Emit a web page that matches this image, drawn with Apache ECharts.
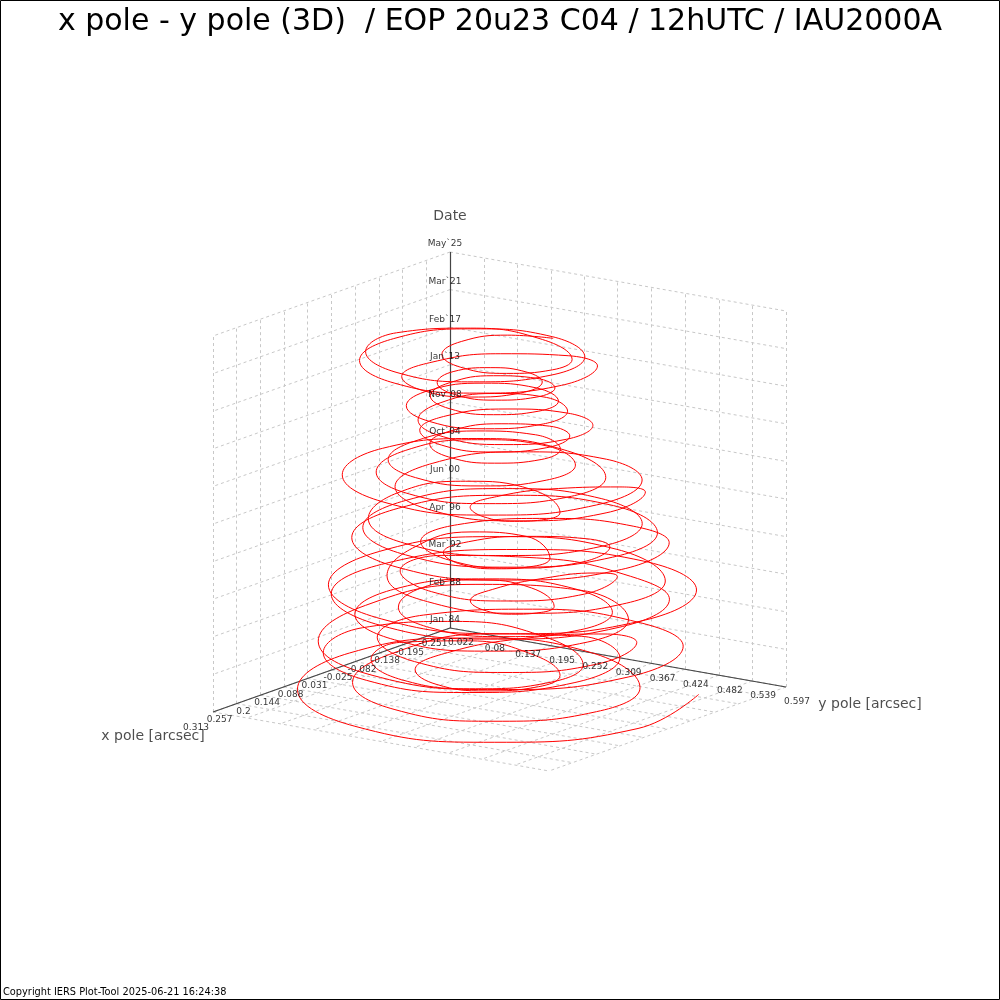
<!DOCTYPE html>
<html><head><meta charset="utf-8">
<style>html,body{margin:0;padding:0;background:#fff}#c{width:1000px;height:1000px}</style>
<script src="https://cdn.jsdelivr.net/npm/echarts@6/dist/echarts.min.js"></script>
</head><body><div id="c"></div>
<script>
const titleText = "x pole - y pole (3D)  / EOP 20u23 C04 / 12hUTC / IAU2000A";
const footerText = "Copyright IERS Plot-Tool 2025-06-21 16:24:38";
const xTickValues = [-0.251,-0.195,-0.138,-0.082,-0.025,0.031,0.088,0.144,0.2,0.257,0.313];
const yTickValues = [0.022,0.08,0.137,0.195,0.252,0.309,0.367,0.424,0.482,0.539,0.597];
const dateTickLabels = ["Jan`84","Feb`88","Mar`92","Apr`96","Jun`00","Oct`04","Nov`08","Jan`13","Feb`17","Mar`21","May`25"];
const dateMin = 1984.0, dateMax = 2025.38;
const dateYears = [
1984.00,1984.15,1984.30,1984.46,1984.61,1984.76,1984.91,1985.07,
1985.22,1985.37,1985.52,1985.68,1985.83,1985.98,1986.13,1986.29,
1986.44,1986.59,1986.74,1986.90,1987.05,1987.20,1987.35,1987.51,
1987.65,1987.80,1987.95,1988.11,1988.26,1988.41,1988.56,1988.72,
1988.87,1989.02,1989.17,1989.33,1989.48,1989.63,1989.78,1989.94,
1990.09,1990.24,1990.39,1990.55,1990.70,1990.85,1991.00,1991.16,
1991.31,1991.46,1991.61,1991.77,1991.92,1992.07,1992.22,1992.38,
1992.52,1992.67,1992.82,1992.98,1993.13,1993.28,1993.43,1993.59,
1993.74,1993.89,1994.04,1994.20,1994.35,1994.50,1994.65,1994.81,
1994.96,1995.11,1995.26,1995.42,1995.57,1995.72,1995.87,1996.03,
1996.18,1996.33,1996.48,1996.64,1996.79,1996.94,1997.09,1997.25,
1997.39,1997.54,1997.69,1997.85,1998.00,1998.15,1998.30,1998.46,
1998.61,1998.76,1998.91,1999.07,1999.22,1999.37,1999.52,1999.68,
1999.83,1999.98,2000.13,2000.29,2000.44,2000.59,2000.74,2000.90,
2001.05,2001.20,2001.35,2001.51,2001.66,2001.81,2001.96,2002.12,
2002.26,2002.41,2002.56,2002.72,2002.87,2003.02,2003.17,2003.33,
2003.48,2003.63,2003.78,2003.94,2004.09,2004.24,2004.39,2004.55,
2004.70,2004.85,2005.00,2005.16,2005.31,2005.46,2005.61,2005.77,
2005.92,2006.07,2006.22,2006.38,2006.53,2006.68,2006.83,2006.99,
2007.13,2007.28,2007.43,2007.59,2007.74,2007.89,2008.04,2008.20,
2008.35,2008.50,2008.65,2008.81,2008.96,2009.11,2009.26,2009.42,
2009.57,2009.72,2009.87,2010.03,2010.18,2010.33,2010.48,2010.64,
2010.79,2010.94,2011.09,2011.25,2011.40,2011.55,2011.70,2011.86,
2012.00,2012.15,2012.30,2012.46,2012.61,2012.76,2012.91,2013.07,
2013.22,2013.37,2013.52,2013.68,2013.83,2013.98,2014.13,2014.29,
2014.44,2014.59,2014.74,2014.90,2015.05,2015.20,2015.35,2015.51,
2015.66,2015.81,2015.96,2016.12,2016.27,2016.42,2016.57,2016.73,
2016.88,2017.03,2017.18,2017.34,2017.49,2017.64,2017.79,2017.95,
2018.09,2018.24,2018.39,2018.55,2018.70,2018.85,2019.00,2019.16,
2019.31,2019.46,2019.61,2019.77,2019.92,2020.07,2020.22,2020.38,
2020.53,2020.68,2020.83,2020.99,2021.14,2021.29,2021.44,2021.60,
2021.75,2021.90,2022.05,2022.21,2022.36,2022.51,2022.66,2022.82,
2022.96,2023.11,2023.26,2023.42,2023.57,2023.72,2023.87,2024.03,
2024.18,2024.33,2024.48,2024.64,2024.79,2024.94,2025.09,2025.25];
const xPole = [
-.149,.058,.239,.284,.169,-.028,-.186,-.208,
-.083,.065,.195,.227,.145,-.013,-.168,-.224,
-.152,.001,.135,.168,.084,-.053,-.148,-.142,
-.042,.067,.163,.187,.126,.034,-.021,-.004,
.074,.148,.214,.230,.188,.091,-.032,-.104,
-.085,.049,.166,.195,.121,-.009,-.115,-.133,
-.055,.133,.298,.339,.235,.043,-.132,-.182,
-.082,.058,.182,.212,.134,-.002,-.115,-.134,
-.052,.058,.155,.179,.118,.018,-.054,-.054,
.017,.060,.098,.107,.083,.020,-.066,-.122,
-.118,-.006,.092,.116,.054,-.042,-.100,-.085,
-.007,.167,.320,.357,.261,.085,-.073,-.114,
-.020,.170,.336,.377,.272,.087,-.067,-.096,
.014,.157,.283,.313,.234,.097,-.016,-.033,
.052,.107,.155,.167,.136,.074,.009,-.020,
.004,.101,.187,.208,.154,.055,-.037,-.064,
-.012,.152,.295,.331,.240,.078,-.060,-.091,
.002,.154,.287,.319,.236,.087,-.038,-.063,
.023,.164,.288,.319,.241,.109,.009,.001,
.088,.135,.175,.185,.160,.097,.018,-.031,
-.022,.107,.220,.247,.176,.047,-.067,-.095,
-.024,.130,.266,.299,.214,.070,-.042,-.052,
.043,.161,.265,.291,.225,.110,.012,-.008,
.061,.157,.242,.262,.209,.112,.023,.000,
.052,.119,.178,.193,.156,.086,.021,.000,
.034,.111,.179,.195,.152,.073,-.001,-.023,
.018,.108,.187,.206,.156,.067,-.010,-.027,
.024,.107,.180,.198,.152,.071,.002,-.012,
.036,.102,.160,.174,.138,.071,.010,-.006,
.029,.090,.143,.156,.123,.067,.026,.024,
.062,.135,.198,.213,.174,.091,.005,-.033,
-.004,.118,.226,.252,.184,.065,-.036,-.056,
.015,.128,.227,.252,.189,.086,.013,.014,
.087,.154,.213,.228,.191,.124,.065,.050];
const yPole = [
.521,.566,.451,.244,.063,.010,.106,.295,
.468,.500,.418,.270,.140,.096,.148,.266,
.384,.417,.333,.180,.046,.015,.105,.264,
.400,.424,.363,.254,.158,.140,.217,.342,
.444,.460,.418,.344,.278,.264,.313,.393,
.461,.490,.416,.282,.165,.151,.261,.430,
.562,.603,.499,.311,.146,.089,.152,.300,
.449,.479,.400,.260,.136,.105,.181,.320,
.443,.467,.406,.296,.199,.168,.211,.303,
.393,.402,.378,.335,.297,.290,.318,.364,
.404,.428,.366,.254,.156,.157,.279,.450,
.573,.610,.514,.340,.187,.155,.265,.452,
.610,.651,.546,.356,.190,.145,.239,.419,
.581,.611,.532,.389,.263,.208,.227,.310,
.411,.423,.392,.337,.289,.287,.342,.421,
.479,.500,.446,.349,.263,.255,.341,.470,
.569,.605,.514,.350,.207,.170,.257,.417,
.559,.591,.508,.356,.223,.189,.268,.417,
.548,.579,.501,.360,.236,.191,.236,.344,
.454,.464,.439,.392,.352,.352,.401,.471,
.521,.548,.477,.348,.235,.207,.275,.402,
.514,.547,.462,.308,.172,.137,.217,.366,
.500,.526,.460,.342,.238,.206,.258,.363,
.461,.481,.428,.332,.247,.222,.264,.349,
.429,.444,.407,.339,.280,.266,.305,.373,
.432,.448,.405,.328,.260,.248,.301,.388,
.460,.479,.429,.339,.260,.235,.271,.348,
.421,.439,.393,.310,.237,.218,.261,.342,
.414,.428,.392,.326,.268,.252,.284,.347,
.403,.416,.383,.322,.269,.256,.290,.352,
.405,.420,.381,.308,.245,.237,.293,.382,
.452,.478,.410,.288,.180,.153,.218,.337,
.444,.469,.406,.293,.194,.173,.247,.371,
.474,.489,.452,.385,.326,.311,.348,.415];

// parallel projection of the 3D box on to the page plane
const back=[450,628], left=[213,712], right=[786,687], lift=376;
const xMin=xTickValues[0], xMax=xTickValues[10], yMin=yTickValues[0], yMax=yTickValues[10];
function project(x,y,z){ // z: 0..1 of the date axis
  const a=(x-xMin)/(xMax-xMin), b=(y-yMin)/(yMax-yMin);
  return [back[0]+a*(left[0]-back[0])+b*(right[0]-back[0]),
          back[1]+a*(left[1]-back[1])+b*(right[1]-back[1])-z*lift];
}
const zFrac=t=>(t-dateMin)/(dateMax-dateMin);
const gridSegs=[];
const seg=(p,q)=>gridSegs.push({coords:[p,q]});
xTickValues.forEach(x=>{ seg(project(x,yMin,0),project(x,yMin,1)); seg(project(x,yMin,0),project(x,yMax,0)); });
yTickValues.forEach(y=>{ seg(project(xMin,y,0),project(xMin,y,1)); seg(project(xMin,y,0),project(xMax,y,0)); });
dateTickLabels.forEach((_,i)=>{ const z=i/10; seg(project(xMin,yMin,z),project(xMax,yMin,z)); seg(project(xMin,yMin,z),project(xMin,yMax,z)); });
const axisSegs=[
 {coords:[project(xMin,yMin,0),project(xMax,yMin,0)]},
 {coords:[project(xMin,yMin,0),project(xMin,yMax,0)]},
 {coords:[project(xMin,yMin,0),project(xMin,yMin,1)]}];
const off=(p,d)=>[p[0]+d[0],p[1]+d[1]];
const tickLabels=[];
xTickValues.forEach(x=>tickLabels.push({value:off(project(x,yMin,0),[-17,16]),t:String(x)}));
yTickValues.forEach(y=>tickLabels.push({value:off(project(xMin,y,0),[11,15]),t:String(y)}));
dateTickLabels.forEach((s,i)=>tickLabels.push({value:off(project(xMin,yMin,i/10),[-5,-8]),t:s}));
const nameLabels=[
 {value:[450,216],t:"Date"},{value:[153,736],t:"x pole [arcsec]"},{value:[870,704],t:"y pole [arcsec]"}];
const trace=xPole.map((x,i)=>project(x,yPole[i],zFrac(dateYears[i])));
const FONT='DejaVu Sans';
const chart=echarts.init(document.getElementById('c'),null,{renderer:'canvas'});
chart.setOption({
 animation:false,backgroundColor:'#fff',
 title:{text:titleText,left:'center',top:2,textStyle:{fontFamily:FONT,fontSize:30,fontWeight:'normal',color:'#000'}},
 grid:{left:0,right:0,top:0,bottom:0},
 xAxis:{type:'value',min:0,max:1000,show:false},
 yAxis:{type:'value',min:0,max:1000,inverse:true,show:false},
 graphic:[
  {type:'rect',shape:{x:.5,y:.5,width:999,height:999},style:{fill:'none',stroke:'#000',lineWidth:1},silent:true},
  {type:'text',x:3,y:987,style:{text:footerText,font:'9.8px "DejaVu Sans"',fill:'#000'},silent:true}],
 series:[
  {type:'lines',coordinateSystem:'cartesian2d',polyline:false,silent:true,z:1,data:gridSegs,
   lineStyle:{color:'#c8c8c8',width:1,type:[3,3],opacity:1}},
  {type:'lines',coordinateSystem:'cartesian2d',polyline:false,silent:true,z:2,data:axisSegs,
   lineStyle:{color:'#444',width:1.2,opacity:1}},
  {type:'line',data:trace,showSymbol:false,smooth:0.45,silent:true,z:3,clip:false,
   lineStyle:{color:'#ff0000',width:1}},
  {type:'scatter',data:tickLabels,symbolSize:0,silent:true,z:4,
   label:{show:true,position:'inside',formatter:p=>p.data.t,fontFamily:FONT,fontSize:9,color:'#000'}},
  {type:'scatter',data:nameLabels,symbolSize:0,silent:true,z:4,
   label:{show:true,position:'inside',formatter:p=>p.data.t,fontFamily:FONT,fontSize:14,color:'#222'}}
 ]
});
</script></body></html>
